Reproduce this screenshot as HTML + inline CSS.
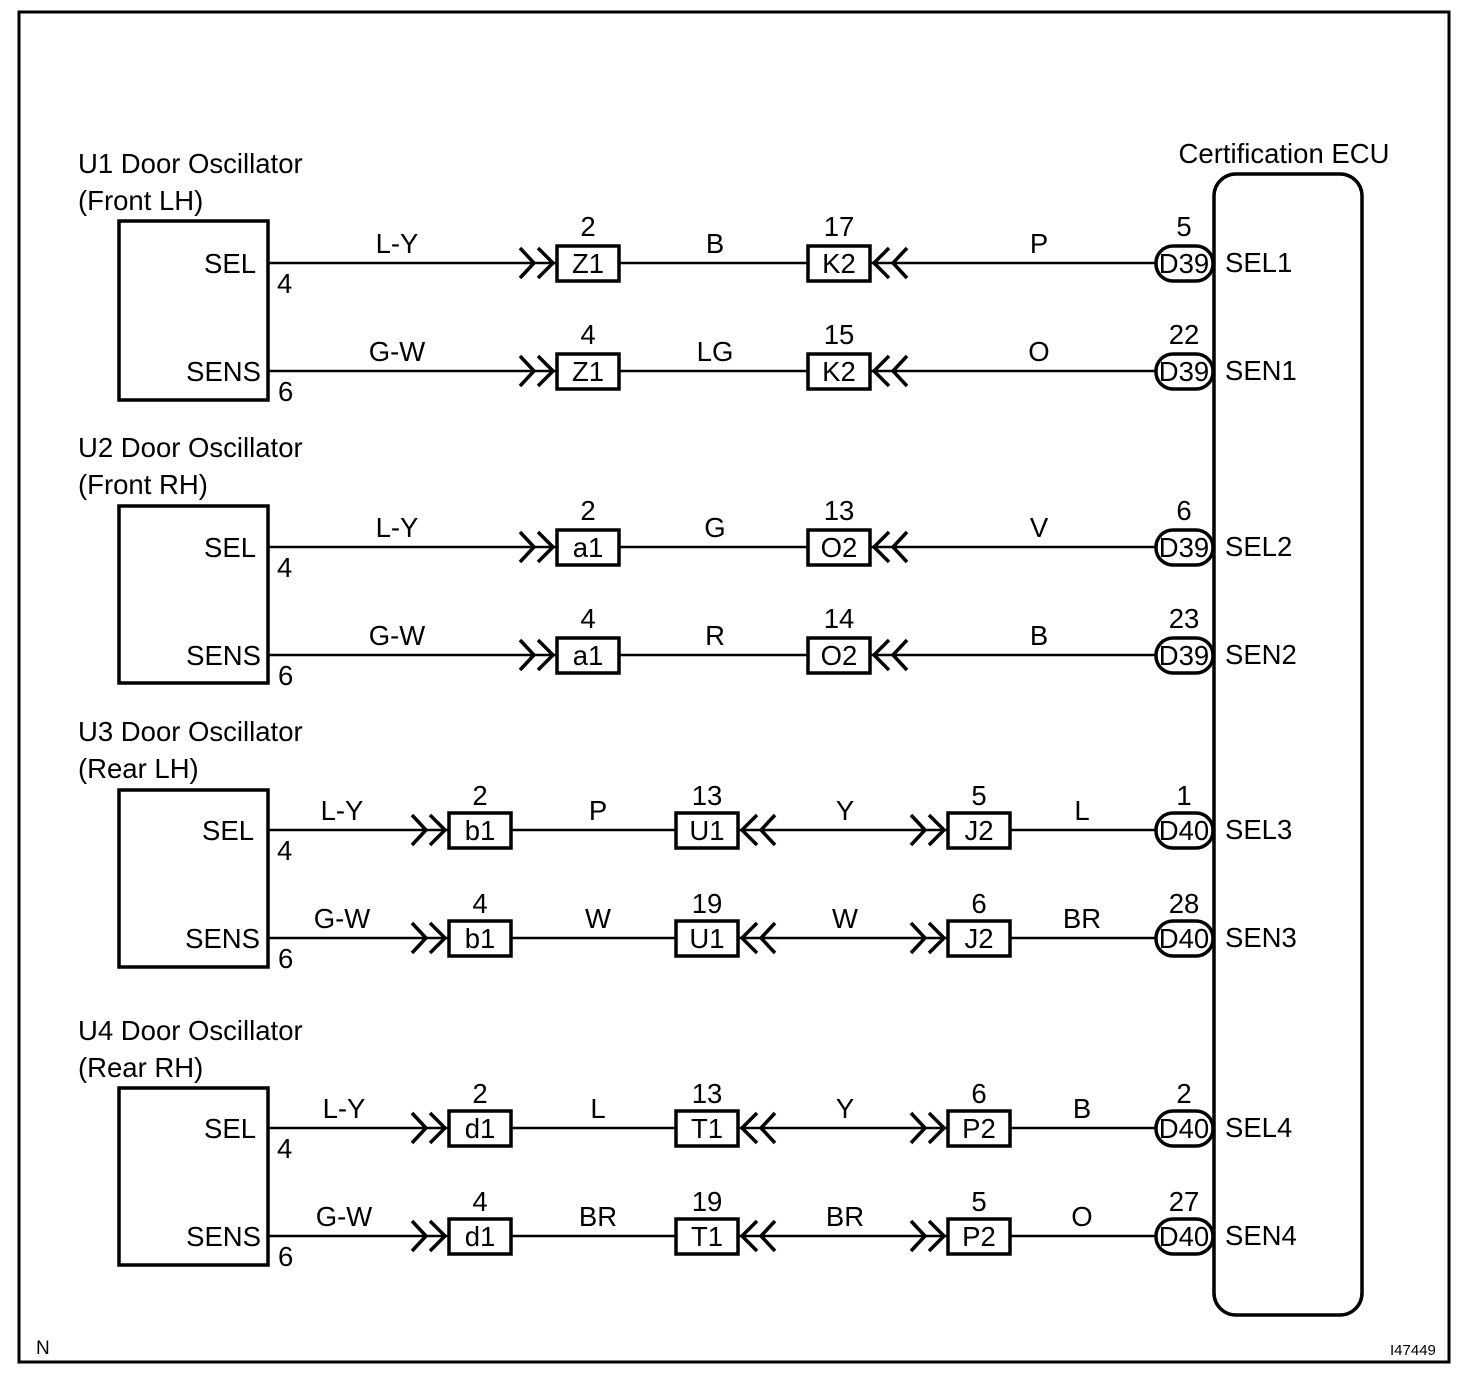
<!DOCTYPE html>
<html><head><meta charset="utf-8"><style>
html,body{margin:0;padding:0;background:#fff}
svg text{font-family:"Liberation Sans",Arial,sans-serif;font-size:27.5px;fill:#000}
</style></head><body>
<svg width="1472" height="1384" viewBox="0 0 1472 1384" xmlns="http://www.w3.org/2000/svg">
<defs>
<path id="cr" d="M-37,-15 L-23,0 L-37,15 M-19,-15 L-4,0 L-19,15" fill="none" stroke="#000" stroke-width="3.5"/>
<path id="cl" d="M37,-15 L23,0 L37,15 M19,-15 L4,0 L19,15" fill="none" stroke="#000" stroke-width="3.5"/>
</defs>
<rect x="19" y="12" width="1430" height="1350" fill="none" stroke="#000" stroke-width="3"/>
<rect x="1214" y="174" width="148" height="1141" rx="22" fill="none" stroke="#000" stroke-width="3.5"/>
<text x="1284" y="163" text-anchor="middle">Certification ECU</text>
<text x="36" y="1354" style="font-size:19px">N</text>
<text x="1390" y="1355" style="font-size:15px">I47449</text>

<g stroke="#000" stroke-width="3.5" fill="none">
<rect x="119" y="221" width="149" height="179"/>
<rect x="119" y="506" width="149" height="177"/>
<rect x="119" y="790" width="149" height="177"/>
<rect x="119" y="1088" width="149" height="177"/>
</g>
<g>
<text x="78" y="173">U1 Door Oscillator</text><text x="78" y="210">(Front LH)</text>
<text x="78" y="457">U2 Door Oscillator</text><text x="78" y="494">(Front RH)</text>
<text x="78" y="741">U3 Door Oscillator</text><text x="78" y="778">(Rear LH)</text>
<text x="78" y="1040">U4 Door Oscillator</text><text x="78" y="1077">(Rear RH)</text>
</g>

<g transform="translate(0,263)">
<text x="256" y="10" text-anchor="end">SEL</text><text x="277" y="30">4</text>
<line x1="268" y1="0" x2="1156" y2="0" stroke="#000" stroke-width="2.5"/>
<text x="397" y="-10" text-anchor="middle">L-Y</text>
<use href="#cr" x="557"/><rect x="557" y="-17" width="62" height="35" fill="#fff" stroke="#000" stroke-width="3.5"/><text x="588" y="10" text-anchor="middle">Z1</text><text x="588" y="-27" text-anchor="middle">2</text>
<text x="715" y="-10" text-anchor="middle">B</text>
<use href="#cl" x="870"/><rect x="808" y="-17" width="62" height="35" fill="#fff" stroke="#000" stroke-width="3.5"/><text x="839" y="10" text-anchor="middle">K2</text><text x="839" y="-27" text-anchor="middle">17</text>
<text x="1039" y="-10" text-anchor="middle">P</text>
<rect x="1156" y="-17" width="57" height="35" rx="17" fill="#fff" stroke="#000" stroke-width="3.5"/><text x="1184" y="10" text-anchor="middle">D39</text><text x="1184" y="-27" text-anchor="middle">5</text>
<text x="1225" y="9">SEL1</text>
</g>
<g transform="translate(0,371)">
<text x="261" y="10" text-anchor="end">SENS</text><text x="278" y="30">6</text>
<line x1="268" y1="0" x2="1156" y2="0" stroke="#000" stroke-width="2.5"/>
<text x="397" y="-10" text-anchor="middle">G-W</text>
<use href="#cr" x="557"/><rect x="557" y="-17" width="62" height="35" fill="#fff" stroke="#000" stroke-width="3.5"/><text x="588" y="10" text-anchor="middle">Z1</text><text x="588" y="-27" text-anchor="middle">4</text>
<text x="715" y="-10" text-anchor="middle">LG</text>
<use href="#cl" x="870"/><rect x="808" y="-17" width="62" height="35" fill="#fff" stroke="#000" stroke-width="3.5"/><text x="839" y="10" text-anchor="middle">K2</text><text x="839" y="-27" text-anchor="middle">15</text>
<text x="1039" y="-10" text-anchor="middle">O</text>
<rect x="1156" y="-17" width="57" height="35" rx="17" fill="#fff" stroke="#000" stroke-width="3.5"/><text x="1184" y="10" text-anchor="middle">D39</text><text x="1184" y="-27" text-anchor="middle">22</text>
<text x="1225" y="9">SEN1</text>
</g>
<g transform="translate(0,547)">
<text x="256" y="10" text-anchor="end">SEL</text><text x="277" y="30">4</text>
<line x1="268" y1="0" x2="1156" y2="0" stroke="#000" stroke-width="2.5"/>
<text x="397" y="-10" text-anchor="middle">L-Y</text>
<use href="#cr" x="557"/><rect x="557" y="-17" width="62" height="35" fill="#fff" stroke="#000" stroke-width="3.5"/><text x="588" y="10" text-anchor="middle">a1</text><text x="588" y="-27" text-anchor="middle">2</text>
<text x="715" y="-10" text-anchor="middle">G</text>
<use href="#cl" x="870"/><rect x="808" y="-17" width="62" height="35" fill="#fff" stroke="#000" stroke-width="3.5"/><text x="839" y="10" text-anchor="middle">O2</text><text x="839" y="-27" text-anchor="middle">13</text>
<text x="1039" y="-10" text-anchor="middle">V</text>
<rect x="1156" y="-17" width="57" height="35" rx="17" fill="#fff" stroke="#000" stroke-width="3.5"/><text x="1184" y="10" text-anchor="middle">D39</text><text x="1184" y="-27" text-anchor="middle">6</text>
<text x="1225" y="9">SEL2</text>
</g>
<g transform="translate(0,655)">
<text x="261" y="10" text-anchor="end">SENS</text><text x="278" y="30">6</text>
<line x1="268" y1="0" x2="1156" y2="0" stroke="#000" stroke-width="2.5"/>
<text x="397" y="-10" text-anchor="middle">G-W</text>
<use href="#cr" x="557"/><rect x="557" y="-17" width="62" height="35" fill="#fff" stroke="#000" stroke-width="3.5"/><text x="588" y="10" text-anchor="middle">a1</text><text x="588" y="-27" text-anchor="middle">4</text>
<text x="715" y="-10" text-anchor="middle">R</text>
<use href="#cl" x="870"/><rect x="808" y="-17" width="62" height="35" fill="#fff" stroke="#000" stroke-width="3.5"/><text x="839" y="10" text-anchor="middle">O2</text><text x="839" y="-27" text-anchor="middle">14</text>
<text x="1039" y="-10" text-anchor="middle">B</text>
<rect x="1156" y="-17" width="57" height="35" rx="17" fill="#fff" stroke="#000" stroke-width="3.5"/><text x="1184" y="10" text-anchor="middle">D39</text><text x="1184" y="-27" text-anchor="middle">23</text>
<text x="1225" y="9">SEN2</text>
</g>

<g transform="translate(0,830)">
<text x="254" y="10" text-anchor="end">SEL</text><text x="277" y="30">4</text>
<line x1="268" y1="0" x2="1156" y2="0" stroke="#000" stroke-width="2.5"/>
<text x="342" y="-10" text-anchor="middle">L-Y</text>
<use href="#cr" x="449"/><rect x="449" y="-17" width="62" height="35" fill="#fff" stroke="#000" stroke-width="3.5"/><text x="480" y="10" text-anchor="middle">b1</text><text x="480" y="-25" text-anchor="middle">2</text>
<text x="598" y="-10" text-anchor="middle">P</text>
<use href="#cl" x="738"/><rect x="676" y="-17" width="62" height="35" fill="#fff" stroke="#000" stroke-width="3.5"/><text x="707" y="10" text-anchor="middle">U1</text><text x="707" y="-25" text-anchor="middle">13</text>
<text x="845" y="-10" text-anchor="middle">Y</text>
<use href="#cr" x="948"/><rect x="948" y="-17" width="62" height="35" fill="#fff" stroke="#000" stroke-width="3.5"/><text x="979" y="10" text-anchor="middle">J2</text><text x="979" y="-25" text-anchor="middle">5</text>
<text x="1082" y="-10" text-anchor="middle">L</text>
<rect x="1156" y="-17" width="57" height="35" rx="17" fill="#fff" stroke="#000" stroke-width="3.5"/><text x="1184" y="10" text-anchor="middle">D40</text><text x="1184" y="-25" text-anchor="middle">1</text>
<text x="1225" y="9">SEL3</text>
</g>
<g transform="translate(0,938)">
<text x="260" y="10" text-anchor="end">SENS</text><text x="278" y="30">6</text>
<line x1="268" y1="0" x2="1156" y2="0" stroke="#000" stroke-width="2.5"/>
<text x="342" y="-10" text-anchor="middle">G-W</text>
<use href="#cr" x="449"/><rect x="449" y="-17" width="62" height="35" fill="#fff" stroke="#000" stroke-width="3.5"/><text x="480" y="10" text-anchor="middle">b1</text><text x="480" y="-25" text-anchor="middle">4</text>
<text x="598" y="-10" text-anchor="middle">W</text>
<use href="#cl" x="738"/><rect x="676" y="-17" width="62" height="35" fill="#fff" stroke="#000" stroke-width="3.5"/><text x="707" y="10" text-anchor="middle">U1</text><text x="707" y="-25" text-anchor="middle">19</text>
<text x="845" y="-10" text-anchor="middle">W</text>
<use href="#cr" x="948"/><rect x="948" y="-17" width="62" height="35" fill="#fff" stroke="#000" stroke-width="3.5"/><text x="979" y="10" text-anchor="middle">J2</text><text x="979" y="-25" text-anchor="middle">6</text>
<text x="1082" y="-10" text-anchor="middle">BR</text>
<rect x="1156" y="-17" width="57" height="35" rx="17" fill="#fff" stroke="#000" stroke-width="3.5"/><text x="1184" y="10" text-anchor="middle">D40</text><text x="1184" y="-25" text-anchor="middle">28</text>
<text x="1225" y="9">SEN3</text>
</g>
<g transform="translate(0,1128)">
<text x="256" y="10" text-anchor="end">SEL</text><text x="277" y="30">4</text>
<line x1="268" y1="0" x2="1156" y2="0" stroke="#000" stroke-width="2.5"/>
<text x="344" y="-10" text-anchor="middle">L-Y</text>
<use href="#cr" x="449"/><rect x="449" y="-17" width="62" height="35" fill="#fff" stroke="#000" stroke-width="3.5"/><text x="480" y="10" text-anchor="middle">d1</text><text x="480" y="-25" text-anchor="middle">2</text>
<text x="598" y="-10" text-anchor="middle">L</text>
<use href="#cl" x="738"/><rect x="676" y="-17" width="62" height="35" fill="#fff" stroke="#000" stroke-width="3.5"/><text x="707" y="10" text-anchor="middle">T1</text><text x="707" y="-25" text-anchor="middle">13</text>
<text x="845" y="-10" text-anchor="middle">Y</text>
<use href="#cr" x="948"/><rect x="948" y="-17" width="62" height="35" fill="#fff" stroke="#000" stroke-width="3.5"/><text x="979" y="10" text-anchor="middle">P2</text><text x="979" y="-25" text-anchor="middle">6</text>
<text x="1082" y="-10" text-anchor="middle">B</text>
<rect x="1156" y="-17" width="57" height="35" rx="17" fill="#fff" stroke="#000" stroke-width="3.5"/><text x="1184" y="10" text-anchor="middle">D40</text><text x="1184" y="-25" text-anchor="middle">2</text>
<text x="1225" y="9">SEL4</text>
</g>
<g transform="translate(0,1236)">
<text x="261" y="10" text-anchor="end">SENS</text><text x="278" y="30">6</text>
<line x1="268" y1="0" x2="1156" y2="0" stroke="#000" stroke-width="2.5"/>
<text x="344" y="-10" text-anchor="middle">G-W</text>
<use href="#cr" x="449"/><rect x="449" y="-17" width="62" height="35" fill="#fff" stroke="#000" stroke-width="3.5"/><text x="480" y="10" text-anchor="middle">d1</text><text x="480" y="-25" text-anchor="middle">4</text>
<text x="598" y="-10" text-anchor="middle">BR</text>
<use href="#cl" x="738"/><rect x="676" y="-17" width="62" height="35" fill="#fff" stroke="#000" stroke-width="3.5"/><text x="707" y="10" text-anchor="middle">T1</text><text x="707" y="-25" text-anchor="middle">19</text>
<text x="845" y="-10" text-anchor="middle">BR</text>
<use href="#cr" x="948"/><rect x="948" y="-17" width="62" height="35" fill="#fff" stroke="#000" stroke-width="3.5"/><text x="979" y="10" text-anchor="middle">P2</text><text x="979" y="-25" text-anchor="middle">5</text>
<text x="1082" y="-10" text-anchor="middle">O</text>
<rect x="1156" y="-17" width="57" height="35" rx="17" fill="#fff" stroke="#000" stroke-width="3.5"/><text x="1184" y="10" text-anchor="middle">D40</text><text x="1184" y="-25" text-anchor="middle">27</text>
<text x="1225" y="9">SEN4</text>
</g>
</svg>
</body></html>
